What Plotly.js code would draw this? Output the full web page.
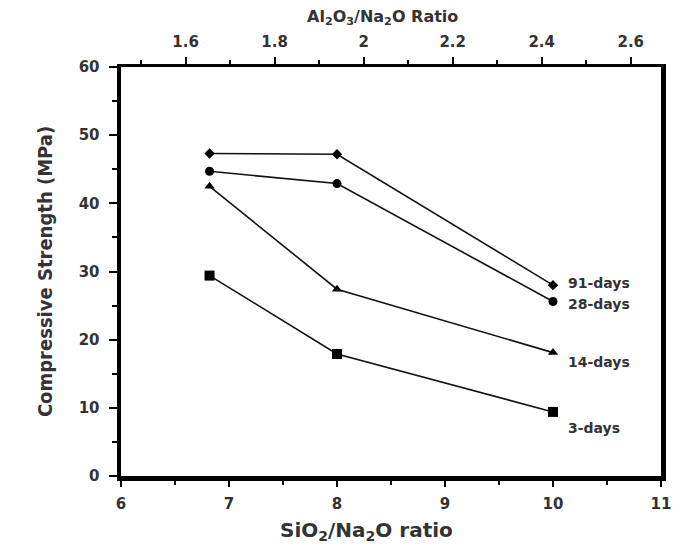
<!DOCTYPE html>
<html><head><meta charset="utf-8">
<script src="https://cdn.plot.ly/plotly-3.0.1.min.js"></script>
<style>html,body{margin:0;padding:0;background:#fff}#chart{width:673px;height:545px}</style>
</head><body><div id="chart"></div>
<script>
const sio2Ratio = [6.82, 8.0, 10.0];
const days91 = [47.3, 47.2, 28.0];
const days28 = [44.7, 42.9, 25.6];
const days14 = [42.5, 27.4, 18.1];
const days3  = [29.4, 17.9, 9.4];
const seriesNames = ['91-days', '28-days', '14-days', '3-days'];
const xTickVals = [6, 7, 8, 9, 10, 11];
const yTickVals = [0, 10, 20, 30, 40, 50, 60];
const topTickVals = [1.6, 1.8, 2.0, 2.2, 2.4, 2.6];
const topTickText = ['1.6', '1.8', '2', '2.2', '2.4', '2.6'];
const xTitle = 'SiO<sub>2</sub>/Na<sub>2</sub>O ratio';
const topTitle = 'Al<sub>2</sub>O<sub>3</sub>/Na<sub>2</sub>O Ratio';
const yTitle = 'Compressive Strength (MPa)';

const seriesSymbols = ['diamond', 'circle', 'triangle-up', 'square'];
const seriesSizes = [8, 9, 9, 10];
const labelShift = [2, -3, -9, -16];
const allSeries = [days91, days28, days14, days3];

const txt = '#333333';
const fontFam = 'DejaVu Sans, Liberation Sans, Arial, sans-serif';

const traces = allSeries.map((ys, i) => ({
  x: sio2Ratio, y: ys, type: 'scatter', mode: 'lines+markers', name: seriesNames[i],
  line: {color: '#111', width: 1.6},
  marker: {symbol: seriesSymbols[i], size: seriesSizes[i], color: '#000'},
  showlegend: false
}));

const annotations = allSeries.map((ys, i) => ({
  x: sio2Ratio[sio2Ratio.length - 1], y: ys[ys.length - 1], xref: 'x', yref: 'y',
  text: seriesNames[i], showarrow: false, xanchor: 'left', yanchor: 'middle',
  xshift: 13, yshift: labelShift[i],
  font: {family: fontFam, size: 14, color: txt, weight: 'bold'}
}));
annotations.push({
  xref: 'paper', yref: 'paper', x: 0.455, y: 0, yshift: -55, xanchor: 'center', yanchor: 'middle',
  text: xTitle, showarrow: false, font: {family: fontFam, size: 20, color: txt, weight: 'bold'}
});
annotations.push({
  xref: 'paper', yref: 'paper', x: 0.485, y: 1, yshift: 50, xanchor: 'center', yanchor: 'middle',
  text: topTitle, showarrow: false, font: {family: fontFam, size: 16, color: txt, weight: 'bold'}
});

const tickFont = {family: fontFam, size: 15, color: txt, weight: 'bold'};

const layout = {
  width: 673, height: 545,
  margin: {l: 121, r: 12, t: 67, b: 69},
  paper_bgcolor: '#fff', plot_bgcolor: '#fff',
  showlegend: false,
  xaxis: {
    range: [6, 11], tickvals: xTickVals, showgrid: false, zeroline: false,
    showline: true, linecolor: '#000', linewidth: 4.5, mirror: false,
    ticks: 'outside', ticklen: 6, tickwidth: 2, tickcolor: '#000',
    minor: {dtick: 0.5, ticks: 'outside', ticklen: 4, tickwidth: 2, tickcolor: '#000'},
    tickfont: tickFont, ticklabelstandoff: 4
  },
  xaxis2: {
    overlaying: 'x', side: 'top', range: [1.455, 2.668],
    tickvals: topTickVals, ticktext: topTickText,
    showgrid: false, zeroline: false, showline: true, linecolor: '#000', linewidth: 3,
    ticks: 'outside', ticklen: 7, tickwidth: 2, tickcolor: '#000',
    minor: {dtick: 0.1, ticks: 'outside', ticklen: 4, tickwidth: 2, tickcolor: '#000'},
    tickfont: tickFont, ticklabelstandoff: 4
  },
  yaxis: {
    range: [0, 60], tickvals: yTickVals, showgrid: false, zeroline: false,
    showline: true, linecolor: '#000', linewidth: 4.5, mirror: true,
    ticks: 'outside', ticklen: 8, tickwidth: 2, tickcolor: '#000',
    minor: {dtick: 5, ticks: 'outside', ticklen: 5, tickwidth: 2, tickcolor: '#000'},
    tickfont: tickFont, ticklabelstandoff: 6,
    title: {text: yTitle, standoff: 22,
      font: {family: 'DejaVu Sans Condensed, Liberation Sans Narrow, Liberation Sans, sans-serif', size: 20, color: txt, weight: 'bold'}}
  },
  annotations: annotations
};

traces.push({x: [], y: [], xaxis: 'x2', yaxis: 'y', type: 'scatter', mode: 'markers', showlegend: false, hoverinfo: 'skip'});

Plotly.newPlot('chart', traces, layout, {displayModeBar: false, staticPlot: true});
</script></body></html>
